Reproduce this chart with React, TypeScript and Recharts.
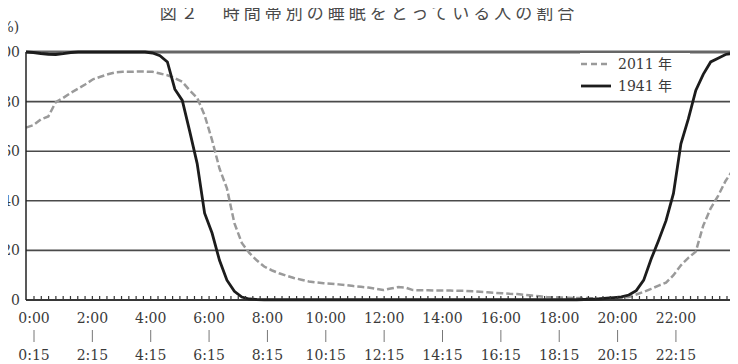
import { CartesianGrid, Legend, Line, LineChart, ReferenceLine, XAxis, YAxis } from "recharts";

const FONT = "'DejaVu Serif', 'Noto Sans CJK JP', serif";

// 15-minute slots, 0:00-0:15 ... 23:45-24:00
const SLOTS = Array.from({ length: 96 }, (_, i) => i);

// % of people asleep
const SLEEP_2011 = [
  69.5, 70.5, 72.8, 74, 79.8, 81.5, 83.5, 85.2, 87, 89,
  90, 91, 91.8, 92, 92, 92.1, 92.1, 92, 91.3, 90.6,
  89.5, 88, 84.5, 81.5, 74.5, 64.5, 53, 45, 31, 23,
  19, 16, 13.5, 12, 10.8, 9.8, 8.9, 8.2, 7.5, 7.1,
  6.8, 6.6, 6.3, 6, 5.6, 5.3, 5, 4.5, 4, 4.6,
  5.2, 5, 4, 3.9, 3.9, 3.8, 3.8, 3.8, 3.7, 3.7,
  3.5, 3.3, 3.1, 2.9, 2.7, 2.5, 2.4, 2.1, 1.8, 1.5,
  1.2, 1.1, 1, 0.9, 0.8, 0.8, 0.7, 0.6, 0.5, 0.6,
  0.9, 1.2, 2.2, 3.3, 4.5, 5.8, 7, 10, 14, 17,
  19.5, 30, 37, 42, 48, 52.5,
];

const SLEEP_1941 = [
  100, 99.8, 99.4, 99.1, 99, 99.3, 99.8, 100, 100, 100,
  100, 100, 100, 100, 100, 100, 100, 99.6, 98.5, 96,
  85, 80.5, 68, 55, 35, 27, 16, 8, 3.5, 1.2,
  0.4, 0.2, 0.1, 0.1, 0.1, 0.1, 0.1, 0.1, 0.1, 0.1,
  0.1, 0.1, 0.1, 0.1, 0.1, 0.1, 0.1, 0.1, 0.1, 0.1,
  0.1, 0.1, 0.1, 0.1, 0.1, 0.1, 0.1, 0.1, 0.1, 0.1,
  0.1, 0.1, 0.1, 0.1, 0.1, 0.1, 0.1, 0.1, 0.1, 0.1,
  0.1, 0.1, 0.1, 0.1, 0.1, 0.2, 0.3, 0.4, 0.7, 1,
  1.3, 2, 3.8, 8, 16.5, 24, 32, 43, 63, 73,
  84.5, 91, 96, 97.5, 99, 99.5,
];

const HOUR_SLOTS = [0, 8, 16, 24, 32, 40, 48, 56, 64, 72, 80, 88];
const TICK_TOP = ["0:00", "2:00", "4:00", "6:00", "8:00", "10:00", "12:00", "14:00", "16:00", "18:00", "20:00", "22:00"];
const TICK_BOTTOM = ["0:15", "2:15", "4:15", "6:15", "8:15", "10:15", "12:15", "14:15", "16:15", "18:15", "20:15", "22:15"];
const Y_TICKS = [0, 20, 40, 60, 80, 100];

const SERIES: Record<string, { name: string; color: string; dash?: string; width: number }> = {
  y2011: { name: "2011 年", color: "#9a9a9a", dash: "7 3", width: 2.5 },
  y1941: { name: "1941 年", color: "#1c1c1c", width: 2.8 },
};
const SERIES_ORDER = Object.keys(SERIES);

const data = SLOTS.map((slot, i) => ({ slot, y2011: SLEEP_2011[i], y1941: SLEEP_1941[i] }));

function SlotTick({ x, y, payload }: any) {
  const k = HOUR_SLOTS.indexOf(payload.value);
  return (
    <g>
      <line x1={x} x2={x} y1={y - 1} y2={y - 4} stroke="#333" strokeWidth={1.2} />
      {k >= 0 && (
        <>
          <text x={x} y={y + 23} textAnchor="middle" fontFamily={FONT} fontSize={14} fill="#3a3a3a">
            {TICK_TOP[k]}
          </text>
          <line x1={x} x2={x} y1={y + 30} y2={y + 42} stroke="#777" strokeWidth={1} />
          <text x={x} y={y + 60} textAnchor="middle" fontFamily={FONT} fontSize={14} fill="#3a3a3a">
            {TICK_BOTTOM[k]}
          </text>
        </>
      )}
    </g>
  );
}

function LegendBox({ payload }: any) {
  const items = [...(payload ?? [])].sort(
    (a: any, b: any) => SERIES_ORDER.indexOf(a.dataKey) - SERIES_ORDER.indexOf(b.dataKey)
  );
  return (
    <div style={{ fontFamily: FONT, fontSize: 14, color: "#3a3a3a", lineHeight: "22px", background: "#fff" }}>
      {items.map((p: any) => {
        const s = SERIES[p.dataKey];
        return (
          <div key={p.dataKey} style={{ display: "flex", alignItems: "center" }}>
            <svg width={32} height={10}>
              <line x1={1} x2={31} y1={5} y2={5} stroke={s.color} strokeWidth={s.width} strokeDasharray={s.dash ? "6 4" : undefined} />
            </svg>
            <span style={{ marginLeft: 6 }}>{s.name}</span>
          </div>
        );
      })}
    </div>
  );
}

export default function App() {
  return (
    <div style={{ position: "relative", width: 738, height: 364, margin: "-8px 0 0 -8px", overflow: "hidden", background: "#fff" }}>
      <div
        style={{
          position: "absolute",
          top: 1,
          left: 0,
          width: 738,
          textAlign: "center",
          fontFamily: "'Noto Sans CJK JP', sans-serif",
          fontSize: 17,
          letterSpacing: 4,
          color: "#4a4a4a",
          lineHeight: "22px",
        }}
      >
        図２　時間帯別の睡眠をとっている人の割合
      </div>
      <div style={{ position: "absolute", top: 17, left: -5, fontFamily: FONT, fontSize: 14, color: "#3a3a3a", lineHeight: "20px" }}>
        (%)
      </div>
      <LineChart width={738} height={364} data={data} margin={{ top: 52, right: 5, bottom: 4, left: 0 }}>
        <CartesianGrid vertical={false} stroke="#4a4a4a" strokeWidth={1.6} />
        <XAxis dataKey="slot" type="number" domain={[0, 95]} height={0} hide />
        <XAxis
          xAxisId="lab"
          dataKey="slot"
          type="number"
          domain={[0, 95]}
          ticks={SLOTS}
          interval={0}
          padding={{ left: 8, right: 6 }}
          height={60}
          tickSize={0}
          tickMargin={0}
          tickLine={false}
          axisLine={{ stroke: "#222", strokeWidth: 1.5 }}
          tick={<SlotTick />}
        />
        <YAxis
          domain={[0, 100]}
          ticks={Y_TICKS}
          width={26}
          tickLine={false}
          tickSize={0}
          tickMargin={6}
          axisLine={{ stroke: "#222", strokeWidth: 1.5 }}
          tick={{ fontFamily: FONT, fontSize: 14, fill: "#3a3a3a" }}
        />
        <YAxis yAxisId="r" orientation="right" domain={[0, 100]} width={0} tick={false} tickLine={false} axisLine={{ stroke: "#555", strokeWidth: 1.5 }} />
        <ReferenceLine y={100} stroke="#666" strokeWidth={3} />
        <Legend layout="vertical" align="center" verticalAlign="middle" wrapperStyle={{ left: 580, top: 53, width: 110 }} content={<LegendBox />} />
        <Line
          dataKey="y2011"
          name={SERIES.y2011.name}
          stroke={SERIES.y2011.color}
          strokeWidth={SERIES.y2011.width}
          strokeDasharray={SERIES.y2011.dash}
          dot={false}
          isAnimationActive={false}
        />
        <Line
          dataKey="y1941"
          name={SERIES.y1941.name}
          stroke={SERIES.y1941.color}
          strokeWidth={SERIES.y1941.width}
          dot={false}
          isAnimationActive={false}
        />
      </LineChart>
    </div>
  );
}
